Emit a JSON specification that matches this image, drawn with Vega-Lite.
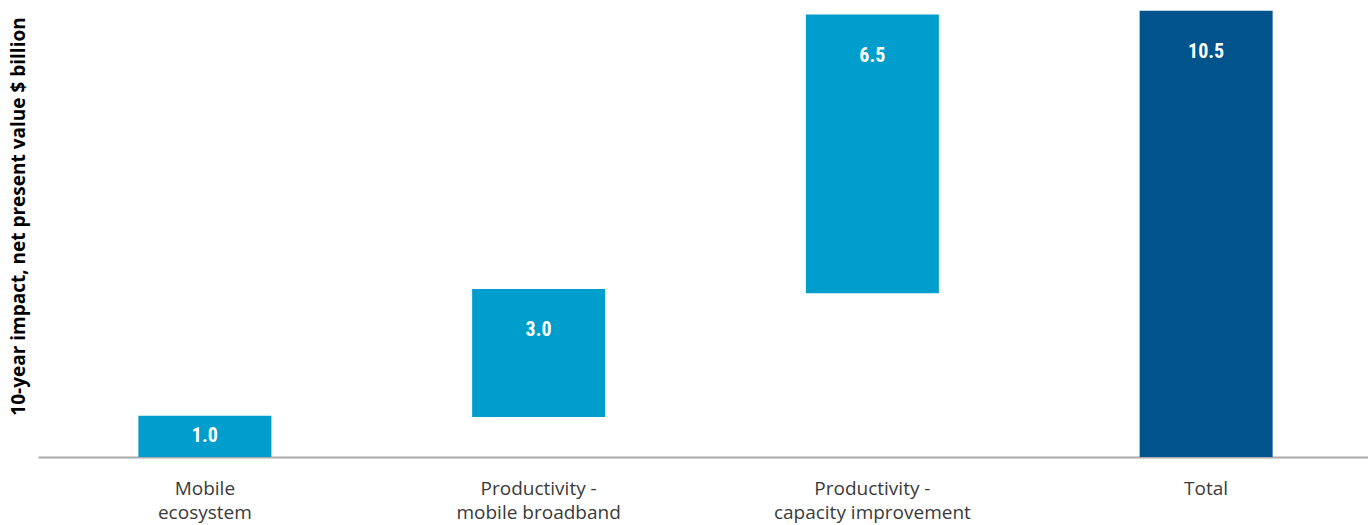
{
  "$schema": "https://vega.github.io/schema/vega-lite/v6.json",
  "width": 1335,
  "height": 457,
  "autosize": {"type": "none"},
  "padding": {"left": 38, "top": 0, "right": 0, "bottom": 68},
  "background": "white",
  "config": {"view": {"stroke": null}},
  "data": {
    "values": [
      {"category": "Mobile|ecosystem", "start": 0, "end": 0.97, "value": "1.0", "type": "step"},
      {"category": "Productivity -|mobile broadband", "start": 0.94, "end": 3.95, "value": "3.0", "type": "step"},
      {"category": "Productivity -|capacity improvement", "start": 3.85, "end": 10.41, "value": "6.5", "type": "step"},
      {"category": "Total", "start": 0, "end": 10.5, "value": "10.5", "type": "total"}
    ]
  },
  "transform": [
    {"calculate": "max((datum.start + datum.end) / 2, datum.end - 0.97)", "as": "labelPos"}
  ],
  "encoding": {
    "x": {
      "field": "category",
      "type": "nominal",
      "sort": null,
      "scale": {"paddingInner": 0.6, "paddingOuter": 0.3},
      "axis": {
        "title": null,
        "labelAngle": 0,
        "labelExpr": "split(datum.label, '|')",
        "labelFont": "Open Sans",
        "labelFontSize": 19,
        "labelColor": "#3a3a3a",
        "labelLineHeight": 24,
        "labelBaseline": "top",
        "labelPadding": 22,
        "labelLimit": 0,
        "ticks": false,
        "domainColor": "#aaaaaa",
        "domainWidth": 2
      }
    }
  },
  "layer": [
    {
      "mark": {"type": "bar", "width": 133},
      "encoding": {
        "y": {
          "field": "start",
          "type": "quantitative",
          "scale": {"domain": [0, 10.75], "nice": false},
          "axis": {
            "title": "10-year impact, net present value $ billion",
            "titleFont": "Open Sans",
            "titleFontSize": 19,
            "titleFontWeight": "bold",
            "titleColor": "#000000",
            "titlePadding": 10,
            "titleY": 216,
            "labels": false,
            "ticks": false,
            "domain": false,
            "grid": false
          }
        },
        "y2": {"field": "end"},
        "color": {
          "field": "type",
          "type": "nominal",
          "scale": {"domain": ["step", "total"], "range": ["#009ECC", "#00538B"]},
          "legend": null
        }
      }
    },
    {
      "mark": {
        "type": "text",
        "color": "white",
        "font": "Roboto Condensed, DejaVu Sans Condensed, sans-serif",
        "fontWeight": "bold",
        "fontSize": 20,
        "baseline": "middle",
        "align": "center"
      },
      "encoding": {
        "y": {"field": "labelPos", "type": "quantitative"},
        "text": {"field": "value"}
      }
    }
  ]
}
